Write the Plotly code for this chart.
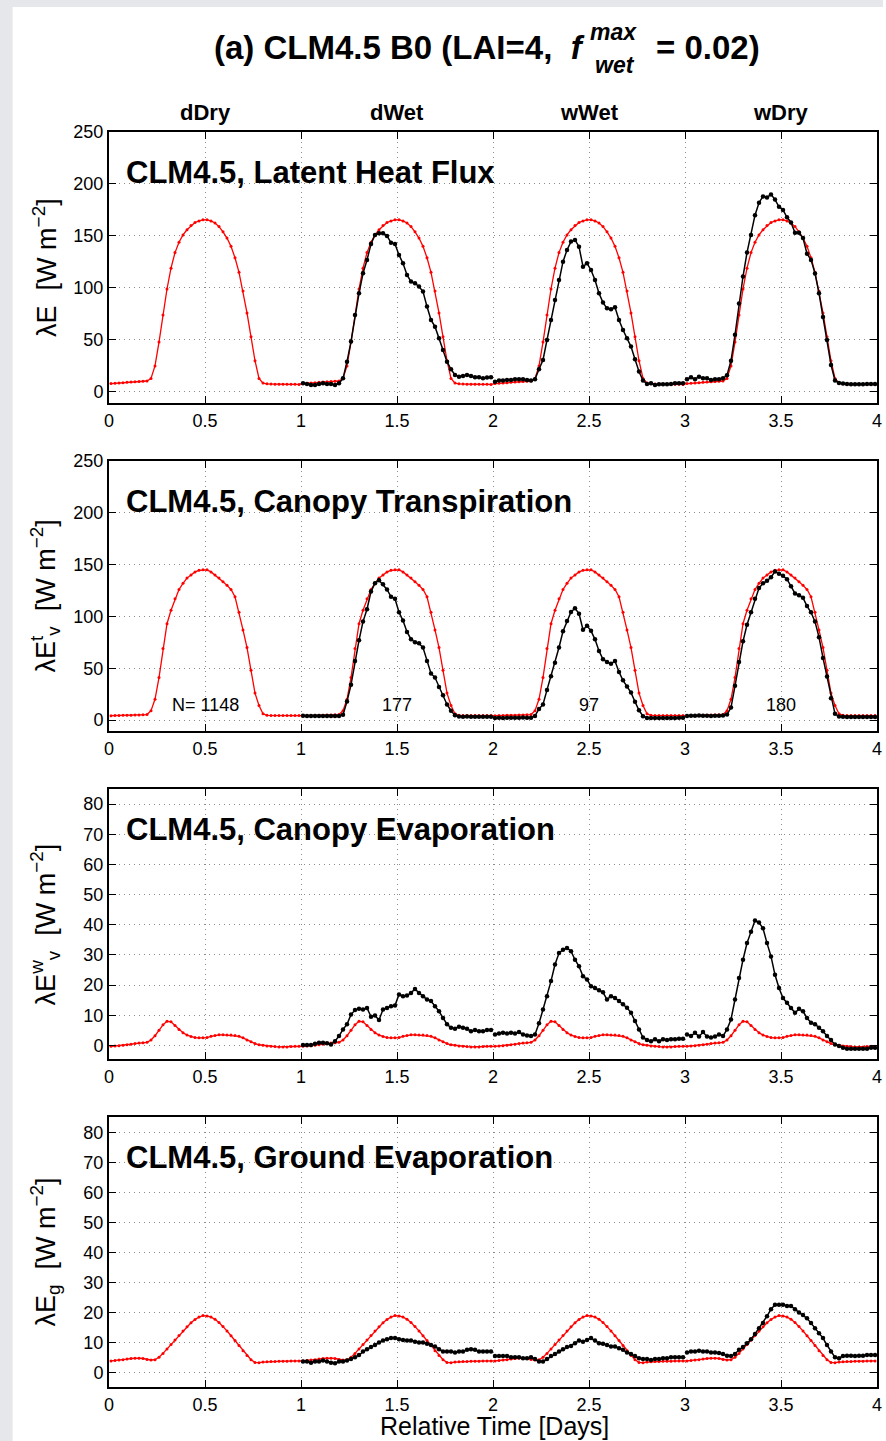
import plotly.graph_objects as go

# ---------------- data ----------------
days = [0, 1, 2, 3]
regimes = ["dDry", "dWet", "wWet", "wDry"]
n_counts = ["N= 1148", "177", "97", "180"]
half_hours = [(i + 0.5) / 48 for i in range(48)]

# model (red) mean diurnal cycle, identical for each regime day
red_le = [8.0, 8.3, 8.6, 8.9, 9.2, 9.5, 9.8, 10.0, 10.2, 10.5, 13, 25, 48, 74, 99, 119, 134, 144, 151, 156,
          160, 163, 164.5, 165.5, 165.5, 164.5, 162.5, 159, 154, 148, 140, 129, 115, 97, 76, 53, 30, 13, 8.5, 7.8,
          7.6, 7.5, 7.5, 7.4, 7.4, 7.3, 7.3, 7.2]
red_tr = [4.2, 4.3, 4.4, 4.5, 4.6, 4.7, 4.8, 4.9, 5.0, 5.3, 9, 20, 41, 69, 93, 106, 117, 126, 132, 137,
          140, 143, 144.5, 145, 145, 143, 140, 137, 133.5, 130, 126, 119, 104, 87, 70, 48, 26, 14, 6, 4.5,
          4.4, 4.4, 4.3, 4.3, 4.3, 4.3, 4.3, 4.3]
red_cev = [-0.3, -0.2, -0.1, 0.0, 0.2, 0.4, 0.6, 0.8, 0.9, 1.0, 1.8, 3.2, 5.0, 6.8, 8.0, 7.8, 6.6, 5.3, 4.2, 3.4,
           2.9, 2.6, 2.5, 2.5, 2.6, 3.0, 3.3, 3.5, 3.5, 3.4, 3.4, 3.3, 3.0, 2.5, 1.8, 1.2, 0.6, 0.2, 0.0, -0.2,
           -0.3, -0.4, -0.5, -0.5, -0.5, -0.4, -0.3, -0.3]
red_gev = [4.0, 4.1, 4.3, 4.4, 4.6, 4.8, 4.9, 4.9, 4.8, 4.5, 4.3, 4.4, 5.2, 6.5, 8.0, 9.5, 11.0, 12.5, 14.0, 15.4,
           16.7, 17.8, 18.6, 19.1, 19.0, 18.6, 17.9, 16.8, 15.5, 14.0, 12.4, 10.8, 9.1, 7.4, 5.8, 4.4, 3.5, 3.4, 3.6, 3.7,
           3.8, 3.8, 3.9, 3.9, 3.9, 4.0, 4.0, 4.0]

# observations (black) for dWet, wWet, wDry days
obs_le_dwet = [8.3, 7.7, 6.7, 6.7, 7.7, 8.3, 7.7, 7.7, 6.7, 8.3, 13.1, 29.1, 48.4, 74.0, 94.9, 114.1, 126.9, 142.3, 151.0, 152.6,
               152.6, 150.0, 143.6, 142.3, 131.7, 123.7, 112.5, 106.1, 104.5, 101.3, 96.5, 82.1, 69.2, 62.8, 51.6, 40.4, 29.1, 21.8, 16.3, 14.7,
               15.4, 16.3, 15.4, 14.1, 14.1, 13.1, 13.8, 14.1]
obs_le_wwet = [9.9, 10.9, 10.9, 11.5, 11.5, 12.2, 12.2, 12.2, 11.5, 10.9, 12.2, 21.8, 30.8, 50.0, 69.2, 88.5, 107.7, 125.3, 136.5, 144.6,
               146.2, 139.7, 120.5, 123.7, 117.3, 107.7, 94.9, 85.9, 80.4, 79.5, 81.4, 69.2, 59.6, 51.6, 43.6, 31.4, 19.6, 10.9, 7.7, 8.3,
               6.7, 7.4, 7.4, 7.4, 7.7, 8.3, 8.3, 8.3]
obs_le_wdry = [12.2, 14.1, 12.2, 14.7, 13.1, 13.1, 11.5, 12.2, 12.2, 13.1, 16.0, 30.0, 55.0, 85.0, 111.0, 134.0, 151.0, 170.0, 182.0, 188.0,
               187.0, 190.0, 185.0, 178.0, 175.0, 168.0, 163.0, 153.0, 153.0, 148.0, 133.0, 127.0, 114.0, 95.0, 72.0, 50.0, 26.0, 11.0, 8.5, 8.0,
               7.7, 7.5, 7.5, 7.5, 7.5, 7.7, 7.7, 7.7]

obs_tr_dwet = [4.2, 4.0, 3.8, 3.8, 3.9, 4.0, 3.9, 4.0, 3.8, 3.9, 5.0, 18, 34, 57, 77, 95, 107, 124, 132, 135,
               131, 126, 119, 117, 104, 96, 85, 78, 75, 74, 70, 57, 45, 41, 32, 24, 15, 9, 4.5, 3.5,
               3.2, 3.3, 3.2, 3.1, 3.1, 3.1, 3.1, 3.1]
obs_tr_wwet = [2.0, 2.1, 2.0, 2.2, 2.1, 2.3, 2.2, 2.4, 2.3, 2.2, 4.0, 10.7, 15.1, 29.1, 42.3, 55.4, 70, 85.7, 95.6, 104.4,
               107.9, 102.7, 87.2, 90.9, 86.1, 77.9, 66.7, 58.6, 55.9, 54.4, 56.9, 46.3, 38.3, 32.3, 26.5, 17.7, 9.4, 3.7, 2.0, 2.0,
               1.9, 1.9, 2.0, 2.0, 2.0, 2.0, 2.1, 2.1]
obs_tr_wdry = [4.0, 4.2, 4.1, 4.3, 4.2, 4.1, 4.0, 4.1, 4.2, 4.3, 5.3, 12.0, 33.0, 56.0, 76.0, 92.0, 104, 117, 127.4, 132,
               134.4, 137.8, 143.3, 141.3, 139.2, 136, 129.1, 122.2, 120.4, 118, 110, 104, 95, 80, 60, 42, 21, 6, 3.5, 3.1,
               3.0, 3.0, 3.0, 3.0, 3.0, 3.0, 3.0, 3.0]

obs_cev_dwet = [0.1, 0.1, 0.1, 0.5, 0.9, 0.9, 0.7, 0.3, 1.4, 3.1, 5.3, 7.0, 10.2, 11.7, 12.1, 11.9, 12.4, 9.5, 9.9, 8.4,
                11.9, 12.4, 13.0, 13.2, 16.9, 16.3, 16.5, 17.4, 18.7, 17.4, 16.3, 15.2, 14.7, 13.0, 11.3, 9.1, 7.0, 5.8, 5.5, 6.2,
                5.8, 5.5, 4.7, 5.1, 4.7, 4.7, 5.1, 5.1]
obs_cev_wwet = [3.6, 3.9, 4.2, 3.9, 4.2, 3.9, 4.4, 3.6, 3.3, 3.1, 3.6, 7.3, 11.9, 16.3, 21.3, 26.8, 30.6, 31.7, 32.3, 31.2,
                28.4, 26.2, 22.9, 21.8, 19.6, 19.0, 18.3, 17.6, 15.2, 16.3, 15.7, 14.7, 13.6, 12.5, 10.8, 8.1, 5.3, 2.6, 1.8, 1.4,
                2.0, 1.4, 2.0, 1.8, 2.0, 2.0, 2.2, 2.2]
obs_cev_wdry = [3.6, 3.1, 4.2, 2.9, 4.4, 2.9, 2.6, 2.9, 3.6, 3.1, 5.3, 8.6, 15.2, 22.3, 28.4, 33.9, 37.7, 41.4, 40.7, 38.8,
                33.9, 29.5, 23.4, 19.0, 15.7, 14.1, 12.4, 10.8, 12.1, 11.3, 9.1, 7.5, 7.0, 5.8, 4.7, 3.1, 1.8, 0.3, -0.2, -0.8,
                -1.1, -1.1, -1.1, -1.1, -1.1, -1.1, -0.8, -0.8]

obs_gev_dwet = [3.8, 3.8, 3.4, 3.8, 3.8, 4.1, 3.8, 3.4, 3.2, 3.8, 3.8, 4.1, 4.6, 5.2, 6.0, 7.1, 7.9, 8.6, 9.3, 10.1,
                10.8, 11.2, 11.6, 11.6, 11.2, 11.0, 10.8, 10.8, 10.4, 10.1, 10.1, 9.7, 9.3, 8.8, 7.9, 7.1, 7.1, 7.1, 6.8, 7.1,
                7.1, 7.7, 7.9, 7.7, 7.1, 7.1, 7.1, 7.1]
obs_gev_wwet = [5.6, 5.6, 5.6, 5.6, 5.2, 5.2, 5.2, 4.9, 4.9, 5.2, 4.6, 3.8, 3.8, 4.6, 5.6, 6.3, 7.1, 7.9, 8.6, 9.0,
                9.9, 10.8, 10.4, 11.0, 11.6, 10.8, 9.9, 9.7, 9.3, 8.8, 8.8, 8.2, 7.7, 6.8, 6.3, 5.6, 4.9, 4.6, 4.6, 4.3,
                4.6, 4.6, 4.9, 4.9, 5.2, 5.2, 5.2, 5.2]
obs_gev_wdry = [6.8, 7.1, 7.1, 7.4, 7.1, 7.1, 6.8, 6.8, 6.6, 6.3, 5.7, 5.6, 6.3, 7.7, 8.6, 9.9, 11.2, 13.0, 14.9, 16.6,
                18.9, 21.2, 22.7, 22.7, 22.7, 22.3, 22.3, 21.2, 20.1, 19.3, 18.2, 16.6, 14.9, 13.2, 11.6, 9.3, 7.1, 5.2, 4.9, 5.6,
                5.7, 5.7, 5.6, 5.7, 5.7, 6.0, 6.0, 6.0]

panel_titles = ["CLM4.5, Latent Heat Flux", "CLM4.5, Canopy Transpiration",
                "CLM4.5, Canopy Evaporation", "CLM4.5, Ground Evaporation"]
y_titles = ["λE  [W m<sup>−2</sup>]", "λE<sup>t</sup><sub>v</sub>  [W m<sup>−2</sup>]",
            "λE<sup>w</sup><sub>v</sub>  [W m<sup>−2</sup>]", "λE<sub>g</sub>  [W m<sup>−2</sup>]"]
red_series = [red_le, red_tr, red_cev, red_gev]
obs_series = [[obs_le_dwet, obs_le_wwet, obs_le_wdry],
              [obs_tr_dwet, obs_tr_wwet, obs_tr_wdry],
              [obs_cev_dwet, obs_cev_wwet, obs_cev_wdry],
              [obs_gev_dwet, obs_gev_wwet, obs_gev_wdry]]
y_ranges = [[-10.6, 250], [-10.6, 250], [-4.5, 85], [-4.7, 85.3]]
y_ticks = [[0, 50, 100, 150, 200, 250], [0, 50, 100, 150, 200, 250],
           [0, 10, 20, 30, 40, 50, 60, 70, 80], [0, 10, 20, 30, 40, 50, 60, 70, 80]]
x_ticks = [0, 0.5, 1, 1.5, 2, 2.5, 3, 3.5, 4]
x_ticktext = ["0", "0.5", "1", "1.5", "2", "2.5", "3", "3.5", "4"]

# ---------------- layout geometry ----------------
W, H = 886, 1441
ML, MR, MT, MB = 109, 4, 132, 54
PW, PH = W - ML - MR, H - MT - MB
domains = [[0.7841, 1.0], [0.5227, 0.7378], [0.2614, 0.4765], [0.0, 0.2151]]
FONT = "Liberation Sans, Arial, Helvetica, sans-serif"

def px_x(px):
    return (px - ML) / PW

def px_y(py):
    return (H - MB - py) / PH

fig = go.Figure()

for k in range(4):
    xa = "x" if k == 0 else f"x{k+1}"
    ya = "y" if k == 0 else f"y{k+1}"
    # model: continuous through the 4 days
    rx, ry = [], []
    for d in days:
        rx += [d + t for t in half_hours]
        ry += red_series[k]
    fig.add_trace(go.Scatter(x=rx, y=ry, mode="lines+markers", xaxis=xa, yaxis=ya,
                             line=dict(color="#ff0000", width=1.3),
                             marker=dict(color="#ff0000", size=3), showlegend=False))
    # observations: one segment per day
    bx, by = [], []
    for j, d in enumerate(days[1:]):
        bx += [d + t for t in half_hours] + [None]
        by += obs_series[k][j] + [None]
    fig.add_trace(go.Scatter(x=bx, y=by, mode="lines+markers", xaxis=xa, yaxis=ya,
                             line=dict(color="#000000", width=1.5),
                             marker=dict(color="#000000", size=4.5), showlegend=False,
                             connectgaps=False))

axis_common = dict(showline=True, linewidth=2, linecolor="black", mirror="allticks",
                   ticks="inside", ticklen=7, tickwidth=1, tickcolor="black",
                   showgrid=True, gridcolor="#8c8c8c", gridwidth=1, griddash="1px,4px",
                   zeroline=False, tickfont=dict(family=FONT, size=18, color="black"))

layout = dict(width=W, height=H, margin=dict(l=ML, r=MR, t=MT, b=MB),
              paper_bgcolor="white", plot_bgcolor="white", showlegend=False,
              font=dict(family=FONT, color="black"))
for k in range(4):
    xn = "xaxis" if k == 0 else f"xaxis{k+1}"
    yn = "yaxis" if k == 0 else f"yaxis{k+1}"
    ya = "y" if k == 0 else f"y{k+1}"
    xa = "x" if k == 0 else f"x{k+1}"
    layout[xn] = dict(axis_common, domain=[0, 1], range=[0, 4], anchor=ya,
                      tickvals=x_ticks, ticktext=x_ticktext)
    layout[yn] = dict(axis_common, domain=domains[k], range=y_ranges[k], anchor=xa,
                      tickvals=y_ticks[k])
fig.update_layout(**layout)

ann = []
for k in range(4):
    xa = "x" if k == 0 else f"x{k+1}"
    ya = "y" if k == 0 else f"y{k+1}"
    ann.append(dict(text=f"<b>{panel_titles[k]}</b>", xref=f"{xa} domain", yref=f"{ya} domain",
                    x=0.02, y=0.85, xanchor="left", yanchor="middle", showarrow=False,
                    font=dict(family=FONT, size=31, color="black")))
    ann.append(dict(text=y_titles[k], xref="paper", yref=f"{ya} domain",
                    x=px_x(45), y=0.5, xanchor="center", yanchor="middle", textangle=-90,
                    showarrow=False, font=dict(family=FONT, size=27, color="black")))
# regime labels on top
for d, lab in zip(days, regimes):
    ann.append(dict(text=f"<b>{lab}</b>", xref="x", yref="paper", x=d + 0.5, y=px_y(112),
                    xanchor="center", yanchor="middle", showarrow=False,
                    font=dict(family=FONT, size=22, color="black")))
# sample counts
for d, lab in zip(days, n_counts):
    ann.append(dict(text=lab, xref="x2", yref="y2", x=d + 0.5, y=14.5, xanchor="center",
                    yanchor="middle", showarrow=False, font=dict(family=FONT, size=18, color="black")))
# x axis title
ann.append(dict(text="Relative Time [Days]", xref="paper", yref="paper", x=px_x(497), y=px_y(1426),
                xanchor="center", yanchor="middle", showarrow=False,
                font=dict(family=FONT, size=25, color="black")))
# main title pieces
ann.append(dict(text="<b>(a) CLM4.5 B0 (LAI=4,  <i>f</i></b>", xref="paper", yref="paper",
                x=px_x(590), y=px_y(47), xanchor="right", yanchor="middle", showarrow=False,
                font=dict(family=FONT, size=33, color="black")))
ann.append(dict(text="<b><i>max</i></b>", xref="paper", yref="paper",
                x=px_x(591), y=px_y(32), xanchor="left", yanchor="middle", showarrow=False,
                font=dict(family=FONT, size=23, color="black")))
ann.append(dict(text="<b><i>wet</i></b>", xref="paper", yref="paper",
                x=px_x(596), y=px_y(65), xanchor="left", yanchor="middle", showarrow=False,
                font=dict(family=FONT, size=23, color="black")))
ann.append(dict(text="<b>= 0.02)</b>", xref="paper", yref="paper",
                x=px_x(658), y=px_y(47), xanchor="left", yanchor="middle", showarrow=False,
                font=dict(family=FONT, size=33, color="black")))
fig.update_layout(annotations=ann)

# light grey page border (left and top)
fig.update_layout(shapes=[
    dict(type="rect", xref="paper", yref="paper", x0=px_x(-2), x1=px_x(12), y0=px_y(H + 2), y1=px_y(-2),
         fillcolor="#e6e7eb", line=dict(width=0), layer="above"),
    dict(type="rect", xref="paper", yref="paper", x0=px_x(-2), x1=px_x(W + 2), y0=px_y(7), y1=px_y(-2),
         fillcolor="#e6e7eb", line=dict(width=0), layer="above"),
])

fig.write_html("out.html", config={"displayModeBar": False},
               post_script="document.body.style.margin='0';document.body.style.overflow='hidden';")
